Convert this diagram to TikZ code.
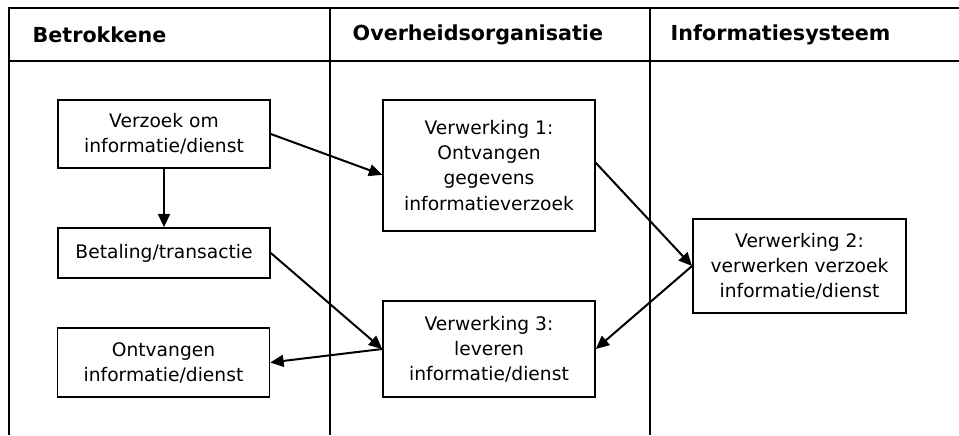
\documentclass[tikz,border=0pt]{standalone}
\usepackage{fontspec}
\setmainfont{DejaVu Sans}
\usepackage{tikz}
\usetikzlibrary{arrows.meta}

\begin{document}
\begin{tikzpicture}[
  x=0.75pt,y=-0.75pt,
  lane/.style={line width=1.2pt},
  header/.style={anchor=west,font=\fontsize{15.5}{18}\selectfont\bfseries},
  block/.style={draw,line width=1.2pt,minimum width=159pt,align=center,
    font=\fontsize{14}{18.8}\selectfont},
  to/.style={-{Triangle[length=10pt,width=9pt]},line width=1.5pt},
  every node/.style={align=center}]

  \useasboundingbox (0,0) rectangle (959,435);

  % Swimlanes
  \draw[lane] (9,435) -- (9,8) -- (959,8);
  \draw[lane] (9,61) -- (959,61);
  \draw[lane] (330,8) -- (330,435);
  \draw[lane] (650,8) -- (650,435);
  \node[header] (Betrokkene) at (28,35) {Betrokkene};
  \node[header] (Overheid) at (348,35) {Overheidsorganisatie};
  \node[header] (Systeem) at (666,35) {Informatiesysteem};

  % Process steps
  \node[block,minimum height=51pt] (Verzoek) at (164,134) {Verzoek om\\informatie/dienst};
  \node[block,minimum height=37.5pt] (Betaling) at (164,253) {Betaling/transactie};
  \node[block,minimum height=51.5pt] (Ontvangen) at (163.5,362.5) {Ontvangen\\informatie/dienst};
  \node[block,minimum height=98pt] (Verw1) at (489,165.5) {Verwerking 1:\\Ontvangen\\gegevens\\informatieverzoek};
  \node[block,minimum height=72pt] (Verw3) at (489,349) {Verwerking 3:\\leveren\\informatie/dienst};
  \node[block,minimum height=70.5pt,minimum width=160pt] (Verw2) at (799.5,266) {Verwerking 2:\\verwerken verzoek\\informatie/dienst};

  % Flow between the steps
  \draw[to] (Verzoek.south) -- (Betaling.north);
  \draw[to] (Verzoek.east) -- ([yshift=-7pt]Verw1.west);
  \draw[to] ([yshift=2pt]Verw1.east) -- (Verw2.west);
  \draw[to] (Verw2.west) -- (Verw3.east);
  \draw[to] (Betaling.east) -- (Verw3.west);
  \draw[to] (Verw3.west) -- (Ontvangen.east);
\end{tikzpicture}
\end{document}
